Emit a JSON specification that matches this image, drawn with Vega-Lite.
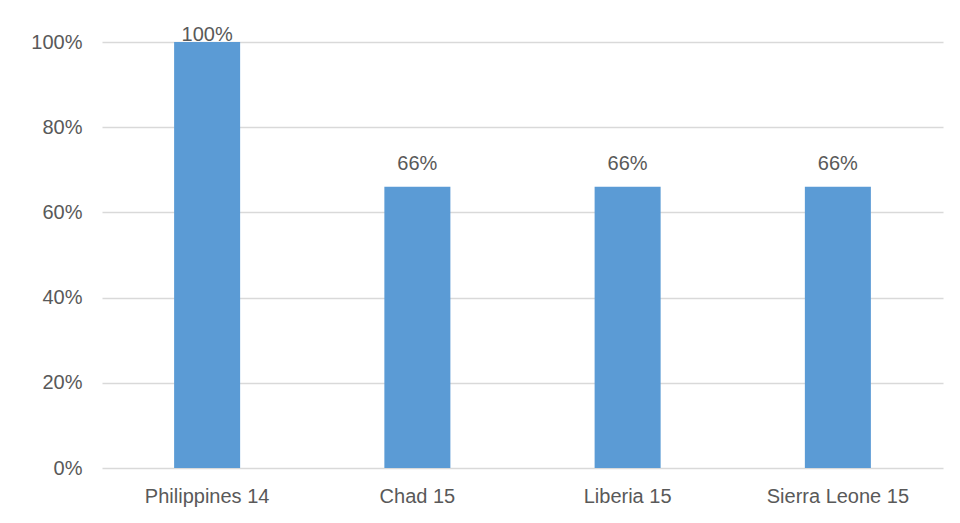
{
  "$schema": "https://vega.github.io/schema/vega-lite/v6.json",
  "width": 841,
  "height": 426,
  "autosize": {"type": "none"},
  "padding": {"left": 102, "top": 42, "right": 17, "bottom": 55},
  "background": "white",
  "config": {
    "view": {"stroke": null},
    "font": "Liberation Sans",
    "axis": {"labelFont": "Liberation Sans", "labelFontSize": 20, "labelColor": "#595959"}
  },
  "data": {
    "values": [
      {"country": "Philippines 14", "value": 1.0},
      {"country": "Chad 15", "value": 0.66},
      {"country": "Liberia 15", "value": 0.66},
      {"country": "Sierra Leone 15", "value": 0.66}
    ]
  },
  "encoding": {
    "x": {
      "field": "country",
      "type": "nominal",
      "sort": null,
      "scale": {"paddingInner": 0.686, "paddingOuter": 0.343},
      "axis": {"title": null, "labelAngle": 0, "ticks": false, "domain": false, "labelPadding": 18}
    },
    "y": {
      "field": "value",
      "type": "quantitative",
      "scale": {"domain": [0, 1]},
      "axis": {
        "title": null,
        "values": [0, 0.2, 0.4, 0.6, 0.8, 1],
        "format": ".0%",
        "ticks": false,
        "domain": false,
        "labelPadding": 20,
        "gridColor": "#d9d9d9",
        "gridWidth": 1.5
      }
    }
  },
  "layer": [
    {"mark": {"type": "bar", "color": "#5b9bd5"}},
    {
      "transform": [{"filter": "datum.value < 1"}],
      "mark": {"type": "text", "baseline": "alphabetic", "dy": -17, "fontSize": 20, "color": "#595959"},
      "encoding": {"text": {"field": "value", "type": "quantitative", "format": ".0%"}}
    },
    {
      "transform": [{"filter": "datum.value >= 1"}],
      "mark": {"type": "text", "baseline": "alphabetic", "dy": -1, "fontSize": 20, "color": "#595959"},
      "encoding": {"text": {"field": "value", "type": "quantitative", "format": ".0%"}}
    }
  ]
}
